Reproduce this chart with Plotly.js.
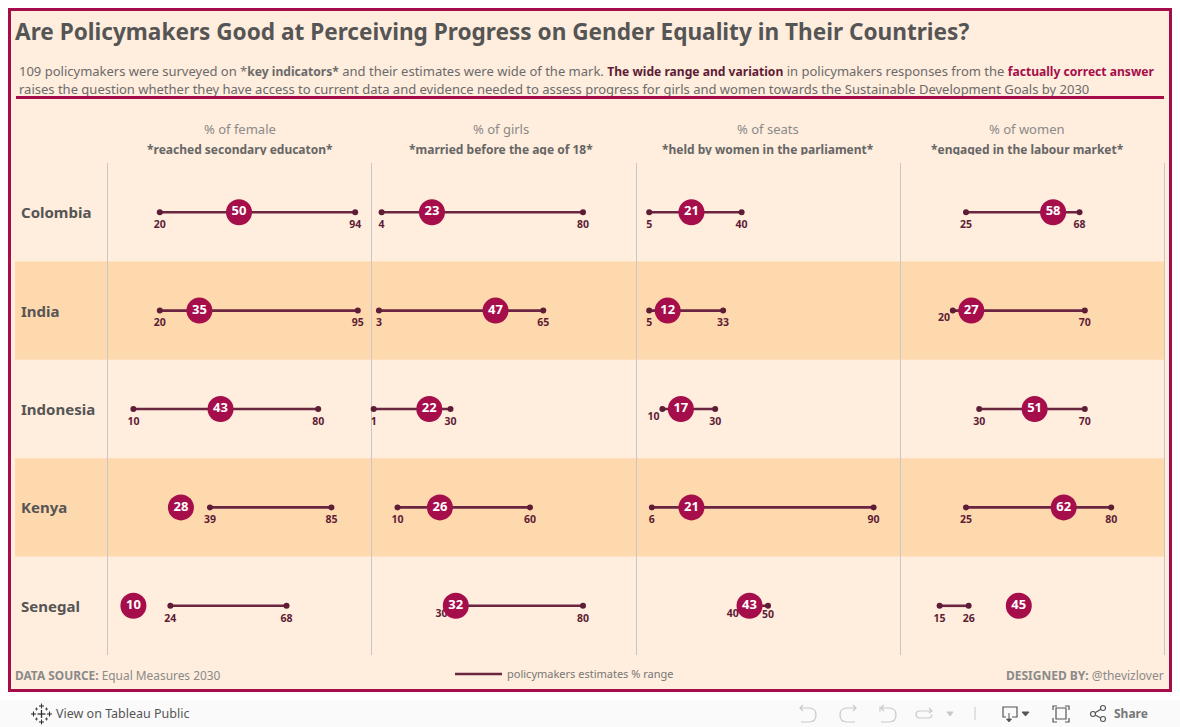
<!DOCTYPE html>
<html><head><meta charset="utf-8">
<script src="https://cdn.plot.ly/plotly-3.0.1.min.js"></script>
<style>html,body{margin:0;padding:0;background:#fff}#c{width:1180px;height:727px}</style>
</head><body><div id="c"></div>
<script>
const countries = ["Colombia","India","Indonesia","Kenya","Senegal"];
const femaleLow = [20,20,10,39,24], femaleHigh = [94,95,80,85,68], femaleActual = [50,35,43,28,10];
const girlsLow = [4,3,1,10,30], girlsHigh = [80,65,30,60,80], girlsActual = [23,47,22,26,32];
const seatsLow = [5,5,10,6,40], seatsHigh = [40,33,30,90,50], seatsActual = [21,12,17,21,43];
const womenLow = [25,20,30,25,15], womenHigh = [68,70,70,80,26], womenActual = [58,27,51,62,45];
const headLines = ["% of female","% of girls","% of seats","% of women"];
const headBold = ["*reached secondary educaton*","*married before the age of 18*","*held by women in the parliament*","*engaged in the labour market*"];

const W=1180,H=727;
const FONT='"Noto Sans", sans-serif';
const CRIM='#A50D4B', DARK='#5E1C36', LINE='#6A2540', BG='#FFEDDD', BAND='#FFD9AE', GREY='#555555';
const px=x=>x/W, py=y=>1-y/H;
const panelEdges=[107,371,636,900,1164];
const ruleEdges=[107.5,371.5,636.5,900.5,1164.5];
const headCentres=[240,501,768,1027];
const panels=[[femaleLow,femaleHigh,femaleActual],[girlsLow,girlsHigh,girlsActual],[seatsLow,seatsHigh,seatsActual],[womenLow,womenHigh,womenActual]];
const lowSide={"1|4":"bottom left","2|2":"bottom left","2|4":"bottom left","3|1":"bottom left"};
const highTight={"2|4":true};

const data=[];
panels.forEach((p,i)=>{
  const xa=i===0?'x':'x'+(i+1);
  const [lo,hi,ac]=p;
  const lx=[],ly=[];
  countries.forEach((c,k)=>{lx.push(lo[k],hi[k],null);ly.push(c,c,null);});
  data.push({type:'scatter',mode:'lines',xaxis:xa,yaxis:'y',x:lx,y:ly,name:'policymakers estimates % range',
    showlegend:i===0,hoverinfo:'skip',line:{color:LINE,width:2.6},cliponaxis:false});
  const ex=[],ey=[],et=[],ep=[],es=[];
  countries.forEach((c,k)=>{
    const key=i+'|'+k;
    ex.push(lo[k]);ey.push(c);et.push(String(lo[k]));ep.push(lowSide[key]||'bottom center');es.push(lowSide[key]?3:11);
    ex.push(hi[k]);ey.push(c);et.push(String(hi[k]));ep.push('bottom center');es.push(highTight[key]?5:11);
  });
  data.push({type:'scatter',mode:'markers',xaxis:xa,yaxis:'y',x:ex,y:ey,showlegend:false,hoverinfo:'skip',
    marker:{color:DARK,size:6},cliponaxis:false});
  data.push({type:'scatter',mode:'markers+text',xaxis:xa,yaxis:'y',x:ex,y:ey,text:et,textposition:ep,showlegend:false,hoverinfo:'skip',
    marker:{color:DARK,size:es,opacity:0},textfont:{family:FONT,size:10.5,color:DARK,weight:700},cliponaxis:false});
  data.push({type:'scatter',mode:'markers+text',xaxis:xa,yaxis:'y',x:ac,y:countries,text:ac.map(String),textposition:'middle center',showlegend:false,hoverinfo:'skip',
    marker:{color:CRIM,size:26},textfont:{family:FONT,size:13,color:'#fff',weight:700},cliponaxis:false});
});

const ann=[];
const txt=(x,y,text,size,color,anchor,extra)=>ann.push(Object.assign({xref:'paper',yref:'paper',x:px(x),y:py(y),text,showarrow:false,xanchor:anchor||'left',yanchor:'middle',align:anchor||'left',borderpad:0,font:{family:FONT,size,color}},extra||{}));
const box=(x0,y0,x1,y1,color)=>ann.push({xref:'paper',yref:'paper',x:px(x0),y:py(y1),xanchor:'left',yanchor:'bottom',text:' ',showarrow:false,width:x1-x0,height:y1-y0,bgcolor:color,borderpad:0,borderwidth:0,font:{size:1}});
const small=(t,c)=>'<span style="font-size:12.1px;font-weight:700'+(c?';fill:'+c:'')+'">'+t+'</span>';

txt(18,71,'109 policymakers were surveyed on *'+small('key indicators*')+' and their estimates were wide of the mark. '+small('The wide range and variation',DARK)+' in policymakers responses from the '+small('factually correct answer',CRIM),13,'#6b6b6b');
txt(18,89,'raises the question whether they have access to current data and evidence needed to assess progress for girls and women towards the Sustainable Development Goals by 2030',13,'#6b6b6b');
box(16,96.5,1164,99,CRIM);
headLines.forEach((t,i)=>{
  txt(headCentres[i],129,t,13,'#8a8a8a','center');
  txt(headCentres[i],149,'<b>'+headBold[i]+'</b>',12,'#666666','center');
});
box(110,155,1164,162,BG);
countries.forEach(c=>ann.push({xref:'paper',yref:'y',x:px(18.5),y:c,text:'<b>'+c+'</b>',showarrow:false,xanchor:'left',yanchor:'middle',font:{family:FONT,size:15,color:GREY}}));
txt(14,675,'<b>DATA SOURCE:</b> Equal Measures 2030',11.9,'#8a8a8a');
txt(1165,675,'<b>DESIGNED BY:</b> @thevizlover',12,'#8a8a8a','right');
txt(55,713.5,'View on Tableau Public',12.5,'#555555');
txt(1113,713.5,'<b>Share</b>',12,'#777777');

const shapes=[];
const pShape=(o)=>shapes.push(Object.assign({xref:'paper',yref:'paper',layer:'below'},o));
const rect=(x0,y0,x1,y1,fill,line,lw)=>pShape({type:'rect',x0:px(x0),x1:px(x1),y0:py(y0),y1:py(y1),fillcolor:fill,line:{color:line||fill,width:lw||0}});
const seg=(x0,y0,x1,y1,c,w)=>pShape({type:'line',x0:px(x0),x1:px(x1),y0:py(y0),y1:py(y1),line:{color:c,width:w||1}});
rect(0,700,1180,727,'#FAFAFA');
rect(9.5,9.5,1170.5,690.5,BG,CRIM,3);
[1,3].forEach(k=>shapes.push({type:'rect',xref:'paper',yref:'y',layer:'below',x0:px(15),x1:px(1164.5),y0:k-0.5,y1:k+0.5,fillcolor:BAND,line:{width:0}}));
ruleEdges.forEach(x=>seg(x,163,x,655,'#C9C7C6',1));
const ic='#555555', ig='#C9C9C9';
const plus=(x,y,r,w)=>{seg(x-r,y,x+r,y,'#333',w);seg(x,y-r,x,y+r,'#333',w);};
plus(41.5,714,4,1.3);
[[-8,0],[8,0],[0,-8],[0,8]].forEach(([a,b])=>plus(41.5+a,714+b,2.5,1.1));
[[-5,-5],[5,-5],[-5,5],[5,5]].forEach(([a,b])=>plus(41.5+a,714+b,1.5,0.8));
const pathPx=(d,c,w,fill)=>pShape({type:'path',path:d.replace(/(-?[\d.]+),(-?[\d.]+)/g,(m,a,b)=>px(+a)+','+py(+b)),line:{color:c,width:w||1.2},fillcolor:fill||'rgba(0,0,0,0)'});
pathPx('M803,705 L800,708 L803,711 M800,708 L809,708 Q816,708 816,715 Q816,722 809,722 L801,722',ig);
pathPx('M853,705 L856,708 L853,711 M856,708 L847,708 Q840,708 840,715 Q840,722 847,722 L855,722',ig);
pathPx('M884,705 L881,708 L884,711 M881,708 L889,708 Q896,708 896,715 Q896,722 889,722 L881,722',ig);
seg(880,706,880,712,ig);
pathPx('M929,708 L932,711 L929,713 M932,711 L920,711 Q916,711 916,714.5 Q916,718 920,718 L928,718 Q932,718 932,714.5',ig);
pathPx('M947,712 L953,712 L950,716 Z',ig,1,ig);
seg(975,707,975,720,ig);
pathPx('M1006,717 L1003,717 L1003,707 L1017,707 L1017,717 L1012,717',ic);
seg(1009,713,1009,720,ic);
pathPx('M1006.5,719 L1011.5,719 L1009,722 Z',ic,0.8,ic);
pathPx('M1022,712 L1029,712 L1025.5,716 Z',ic,1,ic);
pathPx('M1053,710 L1053,706 L1057,706 M1065,706 L1069,706 L1069,710 M1069,718 L1069,722 L1065,722 M1057,722 L1053,722 L1053,718',ic);
pathPx('M1056,708 L1066,708 L1066,719 L1056,719 Z',ic);
pathPx('M1103,708 L1093,714 L1103,719',ic);
[[1093,714],[1103,708],[1103,719]].forEach(([x,y])=>pShape({type:'circle',x0:px(x-2.5),x1:px(x+2.5),y0:py(y-2.5),y1:py(y+2.5),fillcolor:'#FAFAFA',line:{color:ic,width:1.1}}));

const layout={
  width:W,height:H,margin:{l:0,r:0,t:0,b:0,pad:0},paper_bgcolor:'#fff',plot_bgcolor:'rgba(0,0,0,0)',
  font:{family:FONT},
  title:{text:'<b>Are Policymakers Good at Perceiving Progress on Gender Equality in Their Countries?</b>',x:px(15),xanchor:'left',xref:'paper',y:py(32),yanchor:'middle',yref:'paper',font:{family:FONT,size:22.6,color:GREY}},
  yaxis:{type:'category',categoryorder:'array',categoryarray:countries,range:[4.5,-0.5],autorange:false,domain:[py(655),py(163)],visible:false,fixedrange:true},
  showlegend:true,
  legend:{x:px(450),y:py(674),xanchor:'left',yanchor:'middle',bgcolor:'rgba(0,0,0,0)',itemwidth:47,font:{family:FONT,size:11,color:'#777777'},itemclick:false,itemdoubleclick:false},
  shapes,annotations:ann
};
panels.forEach((p,i)=>{
  layout[i===0?'xaxis':'xaxis'+(i+1)]={range:[0,100],autorange:false,domain:[px(panelEdges[i]),px(panelEdges[i+1])],anchor:'y',visible:false,fixedrange:true};
});
Plotly.newPlot('c',data,layout,{displayModeBar:false,staticPlot:true,responsive:false});
</script></body></html>
